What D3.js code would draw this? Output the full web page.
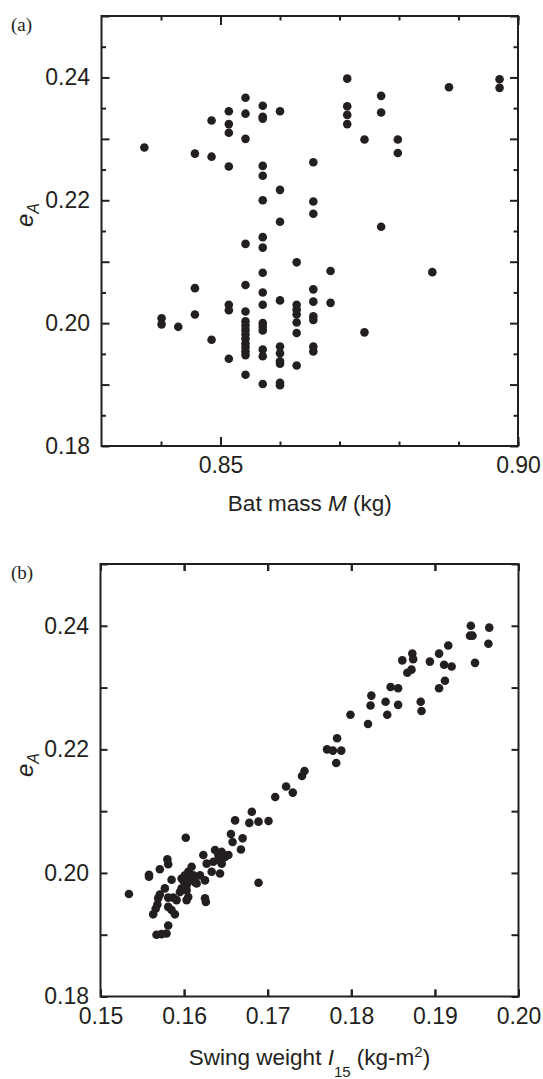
<!DOCTYPE html>
<html>
<head>
<meta charset="utf-8">
<script src="https://cdn.jsdelivr.net/npm/d3@7/dist/d3.min.js"></script>
<style>
  html, body { margin: 0; padding: 0; background: #fff; }
  svg { display: block; }
</style>
</head>
<body>
<svg id="chart" width="543" height="1079"></svg>
<script>
// ---------------- DATA ----------------
// Panel (a): bat mass M (kg) vs e_A
const aMass = [
  0.8372,
  0.8401, 0.8401,
  0.8429,
  0.8457, 0.8457, 0.8457,
  0.8485, 0.8485, 0.8485,
  0.8514, 0.8514, 0.8514, 0.8514, 0.8514, 0.8514, 0.8514,
  0.8542, 0.8542, 0.8542, 0.8542, 0.8542, 0.8542, 0.8542, 0.8542, 0.8542, 0.8542, 0.8542, 0.8542, 0.8542, 0.8542, 0.8542, 0.8542,
  0.8571, 0.8571, 0.8571, 0.8571, 0.8571, 0.8571, 0.8571, 0.8571, 0.8571, 0.8571, 0.8571, 0.8571, 0.8571, 0.8571, 0.8571, 0.8571, 0.8571,
  0.8600, 0.8600, 0.8600, 0.8600, 0.8600, 0.8600, 0.8600, 0.8600, 0.8600, 0.8600,
  0.8628, 0.8628, 0.8628, 0.8628, 0.8628, 0.8628, 0.8628,
  0.8656, 0.8656, 0.8656, 0.8656, 0.8656, 0.8656, 0.8656, 0.8656, 0.8656,
  0.8685, 0.8685,
  0.8713, 0.8713, 0.8713, 0.8713,
  0.8742, 0.8742,
  0.8770, 0.8770, 0.8770,
  0.8798, 0.8798,
  0.8856,
  0.8884,
  0.8969, 0.8969
];
const aEA = [
  0.2286,
  0.2008, 0.1998,
  0.1994,
  0.2276, 0.2057, 0.2014,
  0.2330, 0.2271, 0.1973,
  0.2345, 0.2324, 0.2310, 0.2255, 0.2030, 0.2021, 0.1942,
  0.2367, 0.2341, 0.2300, 0.2129, 0.2062, 0.2019, 0.2003, 0.1996, 0.1989, 0.1982, 0.1975, 0.1967, 0.1961, 0.1954, 0.1948, 0.1916,
  0.2354, 0.2336, 0.2333, 0.2256, 0.2240, 0.2200, 0.2140, 0.2123, 0.2082, 0.2050, 0.2030, 0.2000, 0.1994, 0.1988, 0.1957, 0.1946, 0.1901,
  0.2345, 0.2217, 0.2165, 0.2037, 0.1962, 0.1951, 0.1938, 0.1934, 0.1903, 0.1899,
  0.2099, 0.2030, 0.2022, 0.2014, 0.2001, 0.1984, 0.1931,
  0.2262, 0.2198, 0.2178, 0.2055, 0.2035, 0.2011, 0.2005, 0.1962, 0.1954,
  0.2085, 0.2033,
  0.2398, 0.2353, 0.2339, 0.2324,
  0.2299, 0.1985,
  0.2370, 0.2343, 0.2157,
  0.2299, 0.2277,
  0.2083,
  0.2384,
  0.2397, 0.2383
];

// Panel (b): swing weight I15 (kg-m^2) vs e_A
const bSwing = [
  0.1943, 0.1942, 0.1945, 0.1965, 0.1964, 0.1948, 0.1916, 0.1905, 0.1911, 0.1920,
  0.1912, 0.1905, 0.1894, 0.1861, 0.1873, 0.1874, 0.1867, 0.1872, 0.1883, 0.1884,
  0.1847, 0.1856, 0.1841, 0.1856, 0.1843, 0.1824, 0.1823, 0.1820, 0.1799, 0.1783,
  0.1771, 0.1778, 0.1788, 0.1782, 0.1744, 0.1741, 0.1722, 0.1730, 0.1709,
  0.1681, 0.1678, 0.1689, 0.1701, 0.1661, 0.1656, 0.1658, 0.1670, 0.1668, 0.1689, 0.1602,
  0.1637, 0.1641, 0.1645, 0.1649, 0.1653, 0.1635, 0.1641, 0.1645, 0.1633, 0.1643, 0.1623, 0.1627,
  0.1625, 0.1625, 0.1626, 0.1619, 0.1609, 0.1611, 0.1613, 0.1597, 0.1601, 0.1605, 0.1599, 0.1607,
  0.1603, 0.1597, 0.1603, 0.1603, 0.1605, 0.1595, 0.1615,
  0.1534, 0.1558, 0.1558, 0.1571, 0.1580, 0.1581, 0.1585, 0.1577, 0.1571, 0.1568, 0.1566, 0.1563,
  0.1581, 0.1587, 0.1591, 0.1581, 0.1585, 0.1589, 0.1567, 0.1573, 0.1579, 0.1581, 0.1569
];
const bEA = [
  0.2400, 0.2384, 0.2384, 0.2397, 0.2371, 0.2340, 0.2368, 0.2355, 0.2337, 0.2334,
  0.2311, 0.2299, 0.2342, 0.2344, 0.2355, 0.2346, 0.2324, 0.2329, 0.2277, 0.2262,
  0.2301, 0.2299, 0.2277, 0.2272, 0.2256, 0.2287, 0.2271, 0.2241, 0.2256, 0.2218,
  0.2200, 0.2198, 0.2198, 0.2178, 0.2165, 0.2157, 0.2140, 0.2130, 0.2123,
  0.2099, 0.2081, 0.2083, 0.2084, 0.2085, 0.2063, 0.2050, 0.2056, 0.2038, 0.1984, 0.2057,
  0.2037, 0.2029, 0.2034, 0.2026, 0.2029, 0.2018, 0.2021, 0.2015, 0.2002, 0.1999, 0.2029, 0.2015,
  0.1988, 0.1959, 0.1953, 0.1996, 0.2010, 0.1996, 0.1985, 0.1991, 0.1996, 0.2002, 0.1988, 0.1988,
  0.1972, 0.1975, 0.1980, 0.1956, 0.1961, 0.1969, 0.1983,
  0.1966, 0.1997, 0.1994, 0.2006, 0.2022, 0.2014, 0.1989, 0.1975, 0.1965, 0.1949, 0.1942, 0.1933,
  0.1960, 0.1960, 0.1956, 0.1945, 0.1940, 0.1933, 0.1900, 0.1901, 0.1902, 0.1915, 0.1959
];

// Tick values
const eATicks = [0.18, 0.19, 0.20, 0.21, 0.22, 0.23, 0.24, 0.25];
const eALabels = [0.18, 0.20, 0.22, 0.24];
const eAMinorA = [0.185, 0.195, 0.205, 0.215, 0.225, 0.235, 0.245];
const massTicks = [0.84, 0.85, 0.86, 0.87, 0.88, 0.89, 0.90];
const massLabels = [0.85, 0.90];
const swingTicks = [0.15, 0.16, 0.17, 0.18, 0.19, 0.20];

// ---------------- DRAW ----------------
const ink = "#231f20";
const svg = d3.select("#chart");
svg.append("rect").attr("width", 543).attr("height", 1079).attr("fill", "#fff");
const fmt = d3.format(".2f");

function styleAxis(g) {
  g.select(".domain").remove();
  g.selectAll(".tick line").attr("stroke", ink).attr("stroke-width", 2);
  g.selectAll(".tick text").attr("fill", ink)
    .style("font-family", "'Liberation Sans', Arial, sans-serif")
    .style("font-size", "23px");
}

function panel(opt) {
  const x = d3.scaleLinear().domain(opt.xDomain).range([opt.left, opt.right]);
  const y = d3.scaleLinear().domain([0.18, 0.25]).range([opt.bottom, opt.top]);
  const g = svg.append("g");

  g.append("g").attr("transform", `translate(${opt.left},0)`)
    .call(d3.axisLeft(y).tickValues(eATicks).tickSize(-opt.yMajor).tickPadding(11.5)
      .tickFormat(d => eALabels.some(v => Math.abs(v - d) < 1e-9) ? fmt(d) : ""))
    .call(styleAxis);
  g.append("g").attr("transform", `translate(${opt.right},0)`)
    .call(d3.axisRight(y).tickValues(eATicks).tickSize(-opt.yMajor).tickFormat(""))
    .call(styleAxis);
  if (opt.yMinor) {
    g.append("g").attr("transform", `translate(${opt.left},0)`)
      .call(d3.axisLeft(y).tickValues(opt.yMinor).tickSize(-opt.minorLen).tickFormat(""))
      .call(styleAxis);
    g.append("g").attr("transform", `translate(${opt.right},0)`)
      .call(d3.axisRight(y).tickValues(opt.yMinor).tickSize(-opt.minorLen).tickFormat(""))
      .call(styleAxis);
  }
  g.append("g").attr("transform", `translate(0,${opt.bottom})`)
    .call(d3.axisBottom(x).tickValues(opt.xMinor).tickSize(-opt.xMinorLen).tickFormat(""))
    .call(styleAxis);
  g.append("g").attr("transform", `translate(0,${opt.bottom})`)
    .call(d3.axisBottom(x).tickValues(opt.xMajor).tickSize(-opt.xMajorLen).tickPadding(11).tickFormat(fmt))
    .call(styleAxis);
  g.append("g").attr("transform", `translate(0,${opt.top})`)
    .call(d3.axisTop(x).tickValues(opt.xMinor).tickSize(-opt.xMinorLen).tickFormat(""))
    .call(styleAxis);
  g.append("g").attr("transform", `translate(0,${opt.top})`)
    .call(d3.axisTop(x).tickValues(opt.xMajor).tickSize(-opt.xMajorLen).tickFormat(""))
    .call(styleAxis);

  g.append("rect")
    .attr("x", opt.left).attr("y", opt.top)
    .attr("width", opt.right - opt.left).attr("height", opt.bottom - opt.top)
    .attr("fill", "none").attr("stroke", ink).attr("stroke-width", 2);

  g.append("g").selectAll("circle")
    .data(d3.range(opt.xs.length))
    .join("circle")
    .attr("cx", i => x(opt.xs[i]))
    .attr("cy", i => y(opt.ys[i]))
    .attr("r", 4.3)
    .attr("fill", ink);

  g.append("text").attr("x", 11).attr("y", opt.top + 15)
    .attr("fill", ink)
    .style("font-family", "'Liberation Serif', 'Times New Roman', serif")
    .style("font-size", "19px")
    .text(opt.letter);

  const yl = g.append("text")
    .attr("transform", `translate(33,${opt.yLabelY}) rotate(-90)`)
    .attr("text-anchor", "middle")
    .attr("fill", ink)
    .style("font-family", "'Liberation Sans', Arial, sans-serif")
    .style("font-size", "24px")
    .style("font-style", "italic");
  yl.append("tspan").text("e");
  yl.append("tspan").attr("dy", 6).style("font-size", "16px").text("A");

  const xl = g.append("text")
    .attr("x", (opt.left + opt.right) / 2)
    .attr("y", opt.bottom + opt.xLabelDy)
    .attr("text-anchor", "middle")
    .attr("fill", ink)
    .style("font-family", "'Liberation Sans', Arial, sans-serif")
    .style("font-size", "22.5px");
  opt.xLabel(xl);
}

panel({
  letter: "(a)",
  left: 101.5, right: 518, top: 16, bottom: 446,
  xDomain: [0.83, 0.90],
  xMajor: massLabels, xMinor: massTicks,
  xMajorLen: 9, xMinorLen: 4.5,
  yMajor: 8, yMinor: eAMinorA, minorLen: 4.5,
  xs: aMass, ys: aEA,
  yLabelY: 215,
  xLabelDy: 65,
  xLabel: t => {
    t.append("tspan").text("Bat mass ");
    t.append("tspan").style("font-style", "italic").text("M");
    t.append("tspan").text(" (kg)");
  }
});

panel({
  letter: "(b)",
  left: 100.5, right: 518.5, top: 564, bottom: 996.5,
  xDomain: [0.15, 0.20],
  xMajor: swingTicks, xMinor: swingTicks,
  xMajorLen: 7, xMinorLen: 7,
  yMajor: 7, yMinor: null, minorLen: 0,
  xs: bSwing, ys: bEA,
  yLabelY: 765,
  xLabelDy: 68,
  xLabel: t => {
    t.append("tspan").text("Swing weight ");
    t.append("tspan").style("font-style", "italic").text("I");
    t.append("tspan").attr("dy", 12).style("font-size", "15px").text("15");
    t.append("tspan").attr("dy", -12).text(" (kg-m");
    t.append("tspan").attr("dy", -8).style("font-size", "15px").text("2");
    t.append("tspan").attr("dy", 8).text(")");
  }
});
</script>
</body>
</html>
